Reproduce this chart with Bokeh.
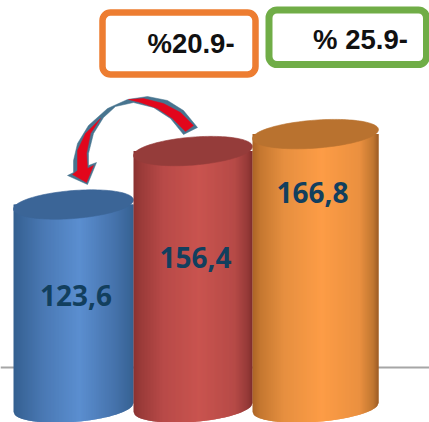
import numpy as np
from bokeh.plotting import figure
from bokeh.models import Range1d, BoxAnnotation, Span
from bokeh.core.properties import value
from bokeh.embed import file_html
from bokeh.resources import INLINE

# data
values = [123.6, 156.4, 166.8]
labels = ["123,6", "156,4", "166,8"]
change_labels = ["%20.9-", "% 25.9-"]

# layout (picture pixels)
W, H = 429, 422
PX_PER_UNIT = 1.63
ZERO_PX = 405.5
centers = [73, 192.5, 315]
half_w = [60, 59.5, 63]
label_px = [(75.5, 295), (195, 257), (312, 192)]
tilt, minor = 4.5, 14.0

stops = [0, .06, .25, .55, .85, .96, 1]
side_cols = [
    ["#34608f", "#3a6699", "#4a79b4", "#5b8ed0", "#4572aa", "#3a6699", "#35608f"],
    ["#8a3231", "#9a3b39", "#b84a48", "#c9544f", "#b64a47", "#953a38", "#7f2d2c"],
    ["#ab6426", "#c47730", "#e68f40", "#fd9c46", "#ea9040", "#bf7530", "#9c5c24"],
]
top_cols = ["#3b6597", "#953c3a", "#b9722f"]
box_specs = [(102, 255, 12, 74, "#ed7d31", 6.5), (268.5, 426, 9.5, 64, "#70ad47", 7)]
box_text = [(190.5, 43, 27.5), (360, 39, 27.5)]

arrow_outline = [(197, 127), (183, 110), (167, 100), (147, 96), (127, 99), (107, 108), (88, 125),
                 (77, 143), (73, 160), (73, 172), (67, 175), (87, 184), (96, 162), (88, 165),
                 (88, 153), (93, 133), (103, 117), (115, 106), (133, 102), (153, 107), (170, 118), (183, 134)]
arrow_red_a = [(193, 125), (180, 112), (163, 103), (143, 98), (128, 99), (140, 102), (157, 108), (172, 118), (185, 131)]
arrow_red_b = [(100, 118), (85, 133), (77, 150), (77, 170), (72, 174), (86, 182), (93, 165), (87, 168), (86, 153), (90, 133)]


def val(py):
    return (ZERO_PX - py) / PX_PER_UNIT


def hex_rgb(c):
    return np.array([int(c[i:i + 2], 16) for i in (1, 3, 5)], float)


def shade(cols, f):
    rgb = [np.interp(f, stops, [hex_rgb(c)[k] for c in cols]) for k in range(3)]
    return "#%02x%02x%02x" % tuple(int(round(v)) for v in rgb)


p = figure(width=W, height=H, output_backend="svg", toolbar_location=None,
           x_range=Range1d(0, W), y_range=Range1d(val(H), val(0)),
           min_border=0, outline_line_color=None)
p.axis.visible = False
p.grid.visible = False
p.background_fill_color = "white"
p.border_fill_color = "white"

p.add_layout(Span(location=val(367), dimension="width", line_color="#a6a6a6", line_width=2, level="underlay"))

for v, cx, a, cols, tc in zip(values, centers, half_w, side_cols, top_cols):
    xs, ys, fills = [], [], []
    px = np.arange(cx - a, cx + a, 1.0)
    for x0 in px:
        x1 = min(x0 + 2.0, cx + a)
        c0, c1 = (x0 - cx) / a, (x1 - cx) / a
        cc = np.array([c0, c1])
        bottom = ZERO_PX + 1.5 - tilt * cc + (minor + 0.5) * np.sqrt(np.clip(1 - cc ** 2, 0, 1))
        xs.append([x0, x1, x1, x0])
        ys.append([val(bottom[0]), val(bottom[1]), v, v])
        fills.append(shade(cols, (x0 + 0.5 - cx + a) / (2 * a)))
    p.patches(xs, ys, fill_color=fills, line_color=None)
    t = np.linspace(0, 2 * np.pi, 120)
    p.patch(cx + a * np.cos(t),
            v + (tilt * np.cos(t) + minor * np.sin(t)) / PX_PER_UNIT,
            fill_color=tc, line_color=tc, line_width=0.6)

for name, (lx, ly) in zip(labels, label_px):
    p.text([lx], [val(ly)], text=[name], text_align="center", text_baseline="middle",
           text_color="#123f5e", text_font=value("Open Sans"), text_font_style="bold",
           text_font_size="28px")

for pts, col in [(arrow_outline, "#47748f"), (arrow_red_a, "#e2061c"), (arrow_red_b, "#e2061c")]:
    p.patch([q[0] for q in pts], [val(q[1]) for q in pts], fill_color=col, line_color=col, line_width=0.5)

for (l, r, t, b, col, lw) in box_specs:
    p.add_layout(BoxAnnotation(left=l, right=r, top=val(t), bottom=val(b),
                               fill_color="white", fill_alpha=1, line_color=col, line_alpha=1,
                               line_width=lw, border_radius=8, level="annotation"))

for name, (tx, ty, fs) in zip(change_labels, box_text):
    p.text([tx], [val(ty)], text=[name], text_align="center", text_baseline="middle",
           text_color="#111111", text_font=value("Liberation Sans"), text_font_style="bold",
           text_font_size=f"{fs}px", level="overlay")

open("out.html", "w").write(file_html(p, INLINE))
